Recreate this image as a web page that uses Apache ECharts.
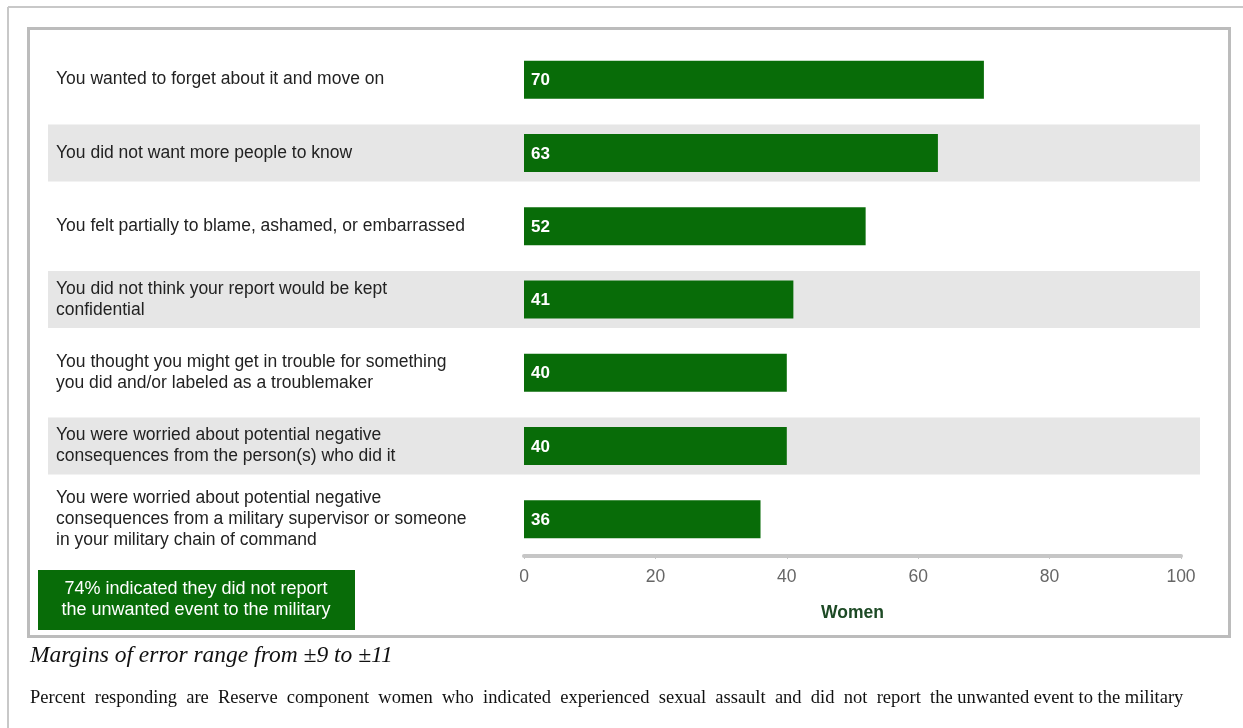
<!DOCTYPE html>
<html>
<head>
<meta charset="utf-8">
<script src="https://cdn.jsdelivr.net/npm/echarts@6/dist/echarts.min.js"></script>
<style>
  html, body { margin: 0; padding: 0; background: #fff; }
  #chart { width: 1243px; height: 728px; }
</style>
</head>
<body>
<div id="chart"></div>
<script>
// reasons for not reporting, top to bottom
const categories = [
  "You wanted to forget about it and move on",
  "You did not want more people to know",
  "You felt partially to blame, ashamed, or embarrassed",
  "You did not think your report would be kept\nconfidential",
  "You thought you might get in trouble for something\nyou did and/or labeled as a troublemaker",
  "You were worried about potential negative\nconsequences from the person(s) who did it",
  "You were worried about potential negative\nconsequences from a military supervisor or someone\nin your military chain of command"
];
const women = [70, 63, 52, 41, 40, 40, 36];
const xTicks = [0, 20, 40, 60, 80, 100];
// alternating shaded rows (1 = shaded)
const shade = [0, 1, 0, 1, 0, 1, 0];

const GREEN = "#086c08";
const LABEL_FONT = "Arial, 'Liberation Sans', sans-serif";

const chart = echarts.init(document.getElementById("chart"));

const option = {
  animation: false,
  grid: [
    { left: 48, right: 43, top: 43, bottom: 172 },   // row shading
    { left: 524, right: 62, top: 43, bottom: 172 }   // bars
  ],
  xAxis: [
    { gridIndex: 0, type: "value", min: 0, max: 1, show: false },
    {
      gridIndex: 1,
      type: "value",
      min: 0,
      max: 100,
      interval: 20,
      name: "Women",
      nameLocation: "middle",
      nameGap: 48,
      nameTextStyle: { fontFamily: LABEL_FONT, fontSize: 17.5, fontWeight: "bold", color: "#1d4a25" },
      axisLine: { show: true, lineStyle: { color: "#c6c6c6", width: 4 } },
      axisTick: { show: true, length: 3, lineStyle: { color: "#c6c6c6" } },
      splitLine: { show: false },
      axisLabel: {
        margin: 12,
        fontFamily: LABEL_FONT,
        fontSize: 17.5,
        color: "#666",
        formatter: (v) => (xTicks.includes(v) ? String(v) : "")
      }
    }
  ],
  yAxis: [
    { gridIndex: 0, type: "category", data: categories, inverse: true, show: false },
    {
      gridIndex: 1,
      type: "category",
      data: categories,
      inverse: true,
      z: 10,
      axisLine: { show: false },
      axisTick: { show: false },
      axisLabel: {
        margin: 468,
        align: "left",
        fontFamily: LABEL_FONT,
        fontSize: 17.5,
        lineHeight: 21,
        color: "#222"
      }
    }
  ],
  series: [
    {
      type: "bar",
      xAxisIndex: 0,
      yAxisIndex: 0,
      data: shade,
      barWidth: 57,
      silent: true,
      z: 0,
      itemStyle: { color: "#e6e6e6" }
    },
    {
      type: "bar",
      xAxisIndex: 1,
      yAxisIndex: 1,
      data: women,
      barWidth: 38,
      z: 5,
      itemStyle: { color: GREEN },
      label: {
        show: true,
        position: "insideLeft",
        offset: [2, 1],
        color: "#fff",
        fontFamily: LABEL_FONT,
        fontWeight: "bold",
        fontSize: 17
      }
    }
  ],
  graphic: [
    // outer page border (top and left)
    { type: "line", shape: { x1: 8, y1: 7, x2: 1243, y2: 7 }, style: { stroke: "#c8c8c8", lineWidth: 2 } },
    { type: "line", shape: { x1: 8, y1: 7, x2: 8, y2: 728 }, style: { stroke: "#c8c8c8", lineWidth: 2 } },
    // chart frame
    { type: "rect", shape: { x: 28.5, y: 28.5, width: 1201, height: 608 }, style: { fill: null, stroke: "#bcbcbc", lineWidth: 3 }, z: -1 },
    // callout box
    {
      type: "group",
      left: 38,
      top: 570,
      children: [
        { type: "rect", shape: { x: 0, y: 0, width: 317, height: 60 }, style: { fill: GREEN } },
        {
          type: "text",
          x: 158,
          y: 30,
          style: {
            text: "74% indicated they did not report\nthe unwanted event to the military",
            fill: "#fff",
            font: "18px " + LABEL_FONT,
            lineHeight: 21,
            align: "center",
            verticalAlign: "middle"
          }
        }
      ]
    },
    {
      type: "text",
      left: 30,
      top: 644,
      style: {
        text: "Margins of error range from \u00b19 to \u00b111",
        fill: "#111",
        font: "italic 23.5px 'Liberation Serif', 'Times New Roman', serif"
      }
    },
    {
      type: "text",
      left: 30,
      top: 689,
      style: {
        text: "Percent  responding  are  Reserve  component  women  who  indicated  experienced  sexual  assault  and  did  not  report  the unwanted event to the military",
        fill: "#111",
        font: "18.5px 'Liberation Serif', 'Times New Roman', serif"
      }
    }
  ]
};

chart.setOption(option);
</script>
</body>
</html>
